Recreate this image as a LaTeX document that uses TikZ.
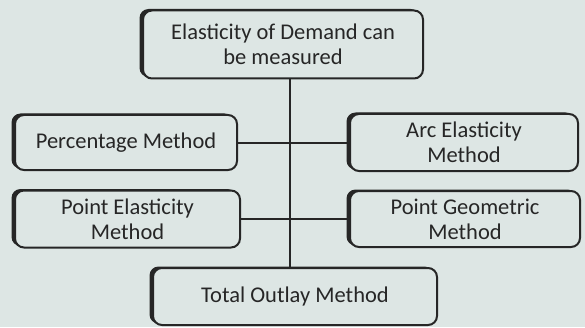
\documentclass[tikz,border=0pt]{standalone}
\usepackage{fontspec}
\setmainfont{Carlito}
\usetikzlibrary{shadows}
\definecolor{paper}{RGB}{221,230,228}
\definecolor{ink}{RGB}{38,38,38}
\begin{document}
\begin{tikzpicture}[x=1pt,y=1pt,
	box/.style={draw=ink, line width=2pt, rounded corners=9pt, fill=paper, text=ink,
		align=center, font=\fontsize{22.5}{25}\selectfont, inner sep=0pt,
		drop shadow={shadow xshift=-3.5pt, shadow yshift=1.5pt, fill=ink, opacity=1}},
	link/.style={draw=ink, line width=2pt}]
	\fill[paper] (0,0) rectangle (585,327);
	\node[box, minimum width=280, minimum height=68] (measure) at (283,282.5) {Elasticity of Demand can\\be measured};
	\node[box, minimum width=222, minimum height=55] (pct) at (126,184.5) {Percentage Method};
	\node[box, minimum width=228, minimum height=57] (arc) at (464,184.5) {Arc Elasticity\\Method};
	\node[box, minimum width=225, minimum height=57] (pel) at (127.5,108) {Point Elasticity\\Method};
	\node[box, minimum width=230, minimum height=56] (pgeo) at (465,108) {Point Geometric\\Method};
	\node[box, minimum width=284, minimum height=57] (total) at (295,30.5) {Total Outlay Method};
	\coordinate (trunk) at (290,0);
	\draw[link] (measure.south -| trunk) -- (total.north -| trunk);
	\draw[link] (pct.east) -- (arc.west);
	\draw[link] (pel.east) -- (pgeo.west);
\end{tikzpicture}
\end{document}
